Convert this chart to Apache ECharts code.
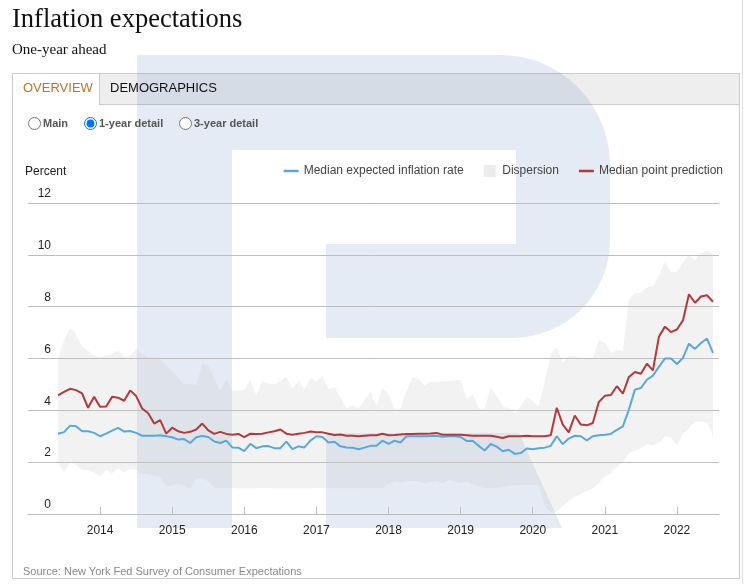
<!DOCTYPE html>
<html>
<head>
    <meta charset="utf-8">
    <title>Inflation expectations</title>
    <script src="https://cdn.jsdelivr.net/npm/echarts@6/dist/echarts.min.js"></script>
    <style>
        body {
            margin: 0;
            width: 748px;
            height: 584px;
            overflow: hidden;
            background: #fff;
            position: relative;
            font-family: "Liberation Sans", Arial, sans-serif;
        }

        .abs { position: absolute; }

        .title {
            left: 12px; top: 3px;
            font: 26.5px "Liberation Serif", Georgia, serif;
            color: #111;
            white-space: nowrap;
        }

        .subtitle {
            left: 12px; top: 41px;
            font: 15px "Liberation Serif", Georgia, serif;
            color: #111;
        }

        .panel {
            left: 12px; top: 73px;
            width: 726px; height: 504px;
            border: 1px solid #ccc;
        }

        .tabbar {
            left: 13px; top: 74px;
            width: 726px; height: 30px;
            background: #eee;
            border-bottom: 1px solid #ccc;
        }

        .tab-active {
            left: 13px; top: 74px;
            width: 86px; height: 31px;
            background: #fff;
            border-right: 1px solid #ccc;
        }

        .outer-line {
            left: 742px; top: 0;
            width: 1px; height: 584px;
            background: #ddd;
        }

        #mark { left: 0; top: 0; z-index: 1; }

        #chart {
            left: 0; top: 0;
            width: 748px; height: 584px;
            z-index: 2;
        }

        .txt { z-index: 3; white-space: nowrap; }

        .tab-txt { top: 78px; line-height: 20px; font-size: 13px; }

        .radio {
            z-index: 3;
            margin: 0;
            width: 13px; height: 13px;
            top: 117px;
        }

        .radio-txt {
            top: 116px; line-height: 14px;
            font-size: 11px; font-weight: bold; color: #555;
        }
    </style>
</head>

<body>

<div class="abs title txt">Inflation expectations</div>
<div class="abs subtitle txt">One-year ahead</div>

<div class="abs panel"></div>
<div class="abs tabbar"></div>
<div class="abs tab-active"></div>
<div class="abs outer-line"></div>

<!-- watermark -->
<svg id="mark" class="abs" width="748" height="584">
    <path d="M137,55 H500 A110,110 0 0 1 610,165 V240 A98,98 0 0 1 512,338 H326 V244 H516 V150 H232 V528 H137 Z"
          fill="rgba(30,88,163,0.12)"></path>
    <path d="M326,433 H519 L562,528 H326 Z" fill="rgba(30,88,163,0.12)"></path>
</svg>

<div id="chart" class="abs"></div>

<div class="abs txt tab-txt" style="left:23px;color:#b5762f;">OVERVIEW</div>
<div class="abs txt tab-txt" style="left:110px;color:#111;">DEMOGRAPHICS</div>

<input type="radio" name="view" class="abs radio" style="left:28px;">
<div class="abs txt radio-txt" style="left:43px;">Main</div>
<input type="radio" name="view" class="abs radio" style="left:84px;" checked>
<div class="abs txt radio-txt" style="left:99px;">1-year detail</div>
<input type="radio" name="view" class="abs radio" style="left:179px;">
<div class="abs txt radio-txt" style="left:194px;">3-year detail</div>

<div class="abs txt" style="left:25px;top:164px;font-size:12px;line-height:14px;color:#222;">Percent</div>
<div class="abs txt" style="left:23px;top:564px;font-size:11px;line-height:14px;color:#888;">Source: New York Fed Survey of Consumer Expectations</div>

<script type="text/javascript">

    // monthly survey, June 2013 .. July 2022
    // the axis runs a little wider: Jan 2013 .. Aug 2022
    var axisStart = [2013, 1];
    var axisMonths = 116;
    var dataOffset = 5;     // June 2013 is the 6th month on the axis

    // median one-year-ahead expected inflation rate
    var medianExp = [
        3.10, 3.16, 3.41, 3.39, 3.19, 3.19, 3.13, 3.00, 3.10, 3.22,
        3.32, 3.18, 3.20, 3.13, 3.02, 3.02, 3.02, 3.04, 3.00, 2.96,
        2.87, 2.89, 2.74, 2.96, 3.01, 2.97, 2.80, 2.74, 2.83, 2.57,
        2.56, 2.43, 2.71, 2.54, 2.61, 2.62, 2.54, 2.54, 2.79, 2.50,
        2.61, 2.57, 2.83, 3.00, 2.97, 2.76, 2.79, 2.61, 2.57, 2.56,
        2.50, 2.56, 2.63, 2.63, 2.83, 2.71, 2.83, 2.76, 3.00, 3.00,
        3.00, 3.00, 3.01, 3.02, 2.98, 3.00, 3.00, 2.97, 2.82, 2.83,
        2.63, 2.45, 2.70, 2.60, 2.42, 2.48, 2.32, 2.35, 2.53, 2.50,
        2.54, 2.56, 2.63, 3.00, 2.70, 2.91, 3.02, 3.00, 2.84, 3.00,
        3.04, 3.06, 3.09, 3.25, 3.38, 4.02, 4.80, 4.86, 5.18, 5.34,
        5.68, 6.00, 6.00, 5.79, 6.02, 6.57, 6.37, 6.60, 6.77, 6.22
    ];

    // median point prediction
    var medianPoint = [
        4.58, 4.71, 4.83, 4.78, 4.65, 4.10, 4.52, 4.14, 4.15, 4.52,
        4.49, 4.37, 4.77, 4.55, 4.07, 3.89, 3.49, 3.62, 3.10, 3.33,
        3.19, 3.13, 3.17, 3.26, 3.49, 3.23, 3.09, 3.17, 3.09, 3.06,
        3.09, 2.97, 3.10, 3.09, 3.10, 3.15, 3.19, 3.26, 3.10, 3.06,
        3.10, 3.13, 3.18, 3.15, 3.15, 3.10, 3.05, 3.07, 3.02, 3.02,
        3.00, 3.02, 3.04, 3.04, 3.10, 3.04, 3.05, 3.07, 3.09, 3.09,
        3.10, 3.10, 3.11, 3.13, 3.06, 3.06, 3.06, 3.06, 3.04, 3.02,
        3.02, 3.02, 3.02, 2.98, 2.93, 3.00, 3.00, 3.00, 3.02, 3.00,
        3.00, 3.00, 3.04, 4.10, 3.45, 3.15, 3.80, 3.45, 3.42, 3.51,
        4.32, 4.56, 4.59, 4.93, 4.64, 5.29, 5.48, 5.41, 5.80, 5.54,
        6.84, 7.23, 7.02, 7.12, 7.47, 8.48, 8.15, 8.39, 8.44, 8.19
    ];

    // dispersion band, upper edge
    var dispHigh = [
        6.00, 6.70, 7.17, 6.95, 6.45, 6.30, 6.10, 6.06, 6.10, 6.20,
        6.30, 6.06, 6.10, 6.39, 6.17, 6.04, 6.04, 5.97, 5.75, 5.52,
        5.26, 5.00, 5.04, 4.97, 5.78, 5.75, 5.20, 4.78, 5.20, 4.77,
        4.77, 4.78, 5.16, 4.58, 5.13, 5.04, 5.00, 5.13, 5.30, 4.83,
        5.13, 4.81, 5.22, 5.13, 5.33, 4.81, 4.90, 4.49, 4.07, 4.19,
        4.06, 4.40, 4.74, 4.16, 4.87, 4.62, 4.06, 4.06, 4.74, 5.29,
        5.20, 4.97, 5.10, 5.10, 5.11, 5.13, 5.16, 5.17, 4.45, 4.62,
        4.07, 4.07, 4.87, 4.55, 4.16, 4.07, 3.90, 4.16, 4.52, 4.36,
        4.16, 5.13, 6.17, 6.45, 5.84, 6.10, 6.10, 6.00, 6.02, 6.02,
        6.69, 6.60, 6.21, 6.34, 6.28, 8.28, 8.52, 8.54, 8.74, 8.80,
        9.19, 9.73, 9.32, 9.34, 9.71, 10.00, 9.77, 10.07, 10.16, 10.03
    ];

    // dispersion band, lower edge
    var dispLow = [
        2.00, 1.60, 2.00, 1.90, 1.70, 1.70, 1.60, 1.44, 1.70, 1.57,
        1.76, 1.60, 1.74, 1.70, 1.54, 1.54, 1.47, 1.45, 1.05, 1.10,
        1.18, 1.09, 0.99, 1.35, 1.40, 1.25, 1.03, 1.00, 1.00, 0.99,
        0.99, 0.99, 0.99, 0.99, 1.00, 1.00, 0.99, 0.99, 0.99, 0.99,
        0.99, 0.99, 0.99, 1.00, 1.00, 0.99, 0.99, 0.99, 0.99, 0.99,
        0.99, 1.00, 1.00, 0.99, 0.99, 1.18, 1.25, 1.22, 1.27, 1.27,
        1.25, 1.18, 1.25, 1.27, 1.18, 1.31, 1.25, 1.18, 1.25, 1.15,
        1.06, 1.00, 1.00, 1.00, 1.05, 1.10, 1.10, 1.12, 1.12, 1.12,
        1.10, 0.30, 0.05, 0.10, 0.30, 0.50, 0.65, 0.78, 0.88, 1.00,
        1.20, 1.45, 1.56, 1.82, 2.01, 2.34, 2.44, 2.53, 2.70, 2.66,
        2.73, 2.99, 2.96, 2.63, 3.12, 3.31, 3.57, 3.56, 3.53, 2.99
    ];

    var yearTicks = ['2014', '2015', '2016', '2017', '2018', '2019', '2020', '2021', '2022'];
    var yTicks = [0, 2, 4, 6, 8, 10, 12];

    var blue = '#58a8dd';
    var red = '#b23a3c';

    // month categories 'YYYY-MM'
    var months = [];
    for (var k = 0; k < axisMonths; k++) {
        var d = new Date(axisStart[0], axisStart[1] - 1 + k, 1);
        var mm = d.getMonth() + 1;
        months.push(d.getFullYear() + '-' + (mm < 10 ? '0' + mm : mm));
    }

    // put a series on the month axis, empty outside the survey period
    function onAxis(arr) {
        var out = [];
        for (var k = 0; k < axisMonths; k++) {
            var v = arr[k - dataOffset];
            out.push(v === undefined ? '-' : v);
        }
        return out;
    }

    var bandSpan = dispHigh.map(function (v, i) { return +(v - dispLow[i]).toFixed(2); });

    function isYearStart(index, value) {
        return value.slice(5) === '01' && yearTicks.indexOf(value.slice(0, 4)) !== -1;
    }

    var myChart = echarts.init(document.getElementById('chart'), null, {renderer: 'canvas'});

    myChart.setOption({
        animation: false,
        backgroundColor: 'transparent',
        textStyle: {
            fontFamily: '"Liberation Sans", Arial, sans-serif'
        },
        legend: {
            right: 20,
            top: 160,
            itemWidth: 15,
            itemHeight: 12,
            itemGap: 20,
            textStyle: {color: '#444', fontSize: 12},
            data: [
                {name: 'Median expected inflation rate', icon: 'path://M0,0H15V2.5H0Z', itemStyle: {color: blue}},
                {name: 'Dispersion', icon: 'path://M0,0H12V12H0Z', itemStyle: {color: '#ececec'}},
                {name: 'Median point prediction', icon: 'path://M0,0H15V2.5H0Z', itemStyle: {color: red}}
            ]
        },
        grid: {
            left: 28,
            right: 29,
            top: 203,
            bottom: 70,
            containLabel: false,
            outerBoundsMode: 'none'
        },
        xAxis: {
            type: 'category',
            data: months,
            boundaryGap: false,
            axisLine: {lineStyle: {color: '#bdbdbd', width: 1}},
            axisTick: {
                inside: true,
                length: 7,
                interval: isYearStart,
                lineStyle: {color: '#bdbdbd'}
            },
            axisLabel: {
                interval: isYearStart,
                margin: 11,
                color: '#222',
                fontSize: 12,
                formatter: function (v) {
                    return v.slice(0, 4);
                }
            },
            splitLine: {show: false}
        },
        yAxis: {
            type: 'value',
            min: yTicks[0],
            max: yTicks[yTicks.length - 1],
            interval: 2,
            axisLine: {show: false},
            axisTick: {show: false},
            axisLabel: {
                inside: true,
                align: 'right',
                verticalAlign: 'bottom',
                margin: 23,
                padding: [0, 0, 3, 0],
                color: '#222',
                fontSize: 12
            },
            splitLine: {lineStyle: {color: '#bdbdbd', width: 1}}
        },
        series: [
            {
                name: 'dispersion-base',
                type: 'line',
                stack: 'disp',
                symbol: 'none',
                silent: true,
                lineStyle: {opacity: 0},
                data: onAxis(dispLow)
            },
            {
                name: 'Dispersion',
                type: 'line',
                stack: 'disp',
                symbol: 'none',
                silent: true,
                lineStyle: {opacity: 0},
                itemStyle: {color: '#ececec'},
                areaStyle: {color: 'rgba(200,200,200,0.24)', opacity: 1},
                data: onAxis(bandSpan)
            },
            {
                name: 'Median expected inflation rate',
                type: 'line',
                symbol: 'none',
                lineStyle: {color: blue, width: 2},
                itemStyle: {color: blue},
                data: onAxis(medianExp)
            },
            {
                name: 'Median point prediction',
                type: 'line',
                symbol: 'none',
                lineStyle: {color: red, width: 2},
                itemStyle: {color: red},
                data: onAxis(medianPoint)
            }
        ]
    });

</script>
</body>
</html>
